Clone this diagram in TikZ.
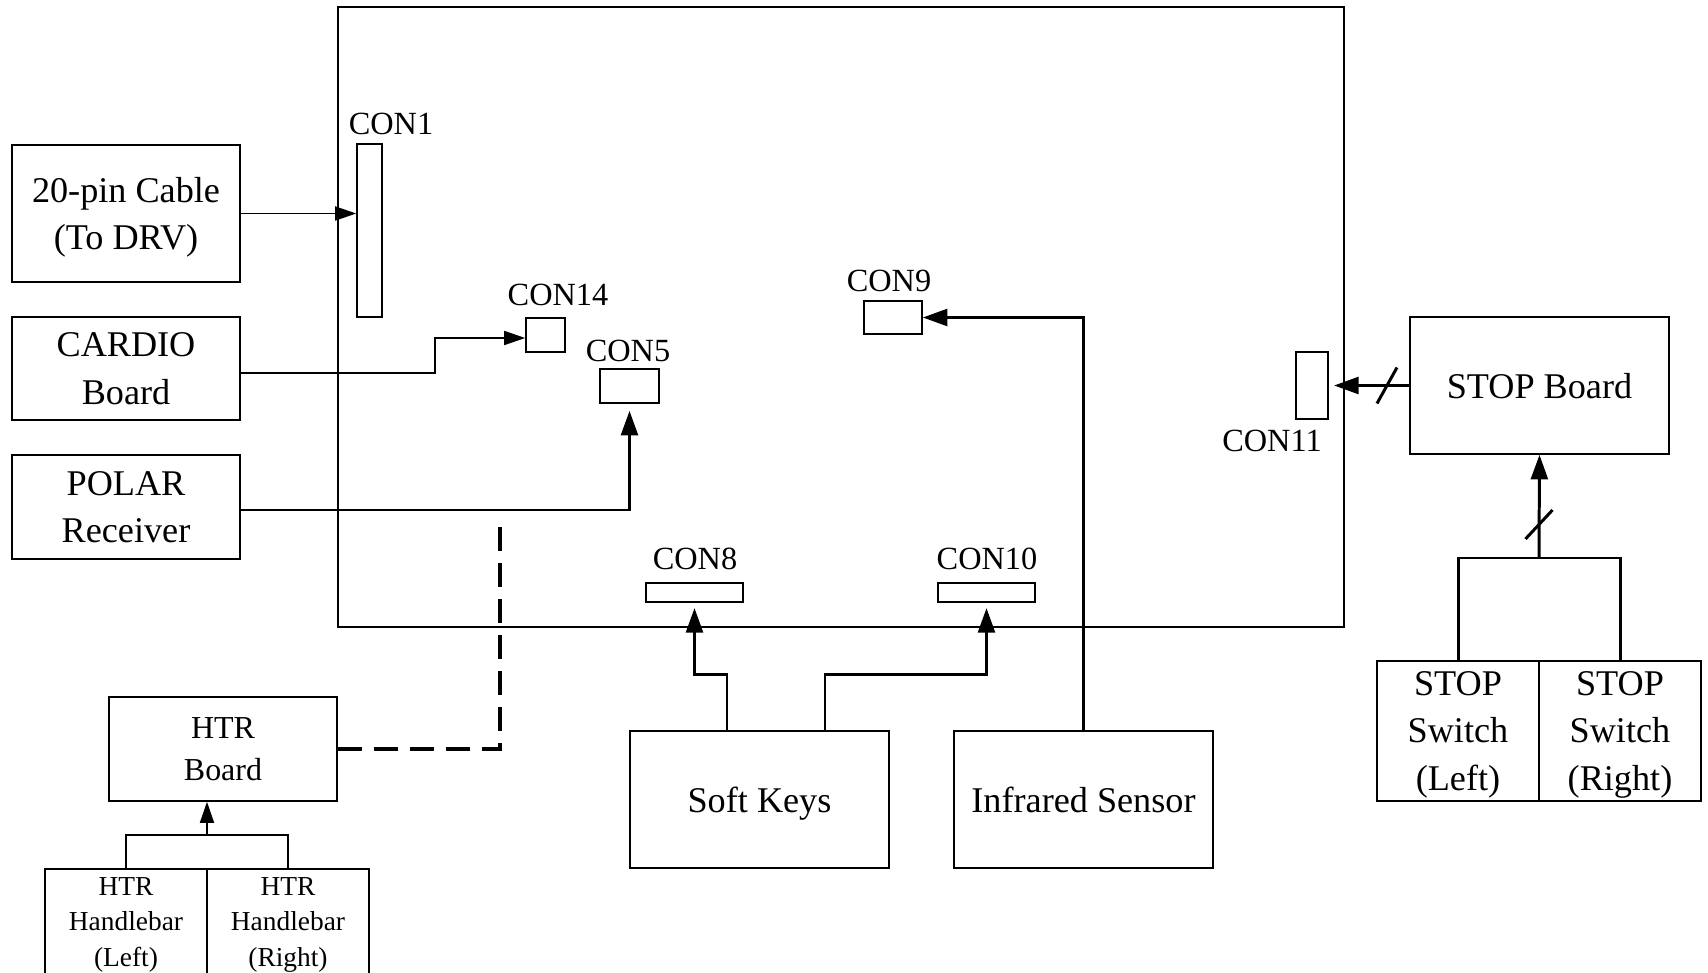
\documentclass[tikz,border=0pt]{standalone}
\usepackage{fontspec}
\setmainfont{Liberation Serif}
\usetikzlibrary{arrows.meta,positioning}

\begin{document}
\begin{tikzpicture}[
  blk/.style={rectangle, draw, line width=0.45pt, align=center, inner sep=0pt, text depth=0pt,
              minimum width=2.28cm, font=\fontsize{10.3}{13.4}\selectfont},
  halfblk/.style={blk, minimum width=1.62cm},
  con/.style={rectangle, draw, line width=0.45pt, inner sep=0pt},
  conlbl/.style={inner sep=0pt, font=\fontsize{9.2}{11}\selectfont},
  arr/.style={-{Triangle[length=6pt,width=4pt]}, line width=0.45pt},
  arrthick/.style={-{Triangle[length=7pt,width=4.8pt]}, line width=0.85pt},
  link/.style={line width=0.85pt},
  wire/.style={line width=0.45pt},
  htrlink/.style={line width=1pt, dash pattern=on 0.24cm off 0.12cm}
]
\useasboundingbox (0,0) rectangle (17.08,9.72);

% main board and its connectors
\node[con, minimum width=10.06cm, minimum height=6.20cm] (board) at (8.41,6.55) {};
\node[con, minimum width=0.25cm, minimum height=1.73cm] (con1) at (3.695,7.415) {};
\node[con, minimum width=0.39cm, minimum height=0.34cm] (con14) at (5.455,6.37) {};
\node[con, minimum width=0.59cm, minimum height=0.34cm] (con5) at (6.295,5.86) {};
\node[con, minimum width=0.58cm, minimum height=0.33cm] (con9) at (8.93,6.545) {};
\node[con, minimum width=0.32cm, minimum height=0.67cm] (con11) at (13.12,5.865) {};
\node[con, minimum width=0.97cm, minimum height=0.19cm] (con8) at (6.945,3.795) {};
\node[con, minimum width=0.97cm, minimum height=0.19cm] (con10) at (9.865,3.795) {};

\node[conlbl] (con1lbl) at (3.91,8.48) {CON1};
\node[conlbl] (con14lbl) at (5.58,6.77) {CON14};
\node[conlbl] (con5lbl) at (6.28,6.21) {CON5};
\node[conlbl] (con9lbl) at (8.89,6.91) {CON9};
\node[conlbl] (con11lbl) at (12.72,5.31) {CON11};
\node[conlbl] (con8lbl) at (6.95,4.13) {CON8};
\node[conlbl] (con10lbl) at (9.87,4.13) {CON10};

% outside blocks
\node[blk, minimum height=1.37cm] (pin20) at (1.26,7.585) {20-pin Cable\\(To DRV)};
\node[blk, minimum height=1.03cm] (cardio) at (1.26,6.035) {CARDIO\\Board};
\node[blk, minimum height=1.04cm] (polar) at (1.26,4.65) {POLAR\\Receiver};
\node[blk, minimum height=1.04cm, font=\fontsize{9.1}{11.7}\selectfont] (htr) at (2.23,2.23) {HTR\\Board};
\node[halfblk, minimum height=1.06cm, font=\fontsize{7.8}{10}\selectfont] (hbarL) at (1.26,0.50) {HTR\\Handlebar\\(Left)};
\node[halfblk, minimum height=1.06cm, font=\fontsize{7.8}{10}\selectfont] (hbarR) at (2.88,0.50) {HTR\\Handlebar\\(Right)};
\node[blk, minimum width=2.59cm, minimum height=1.37cm] (soft) at (7.595,1.725) {Soft Keys};
\node[blk, minimum width=2.59cm, minimum height=1.37cm] (infra) at (10.835,1.725) {Infrared Sensor};
\node[blk, minimum width=2.59cm, minimum height=1.37cm] (stop) at (15.395,5.865) {STOP Board};
\node[halfblk, minimum height=1.40cm] (stopL) at (14.58,2.41) {STOP\\Switch\\(Left)};
\node[halfblk, minimum height=1.40cm] (stopR) at (16.20,2.41) {STOP\\Switch\\(Right)};

\coordinate (htrend) at (5.00,4.51);
\coordinate (hjoin) at (2.07,1.37);
\coordinate (stopjoin) at (15.39,4.14);

% connections
\draw[arr] (pin20.east) -- (pin20.east -| con1.west);
\draw[arr] ([yshift=-0.045cm]cardio.east) -- ++(1.94,0) |- ([yshift=-0.03cm]con14.west);
\draw[arrthick, shorten >=2pt] ([yshift=-0.03cm]polar.east) -| (con5.south);
\draw[arrthick] (infra.north) |- (con9.east);
\draw[arrthick, shorten >=1.5pt] ([xshift=-0.325cm]soft.north) -- ++(0,0.56) -| (con8.south);
\draw[arrthick, shorten >=1.5pt] ([xshift=0.655cm]soft.north) -- ++(0,0.56) -| (con10.south);
\draw[htrlink] (htr.east) -| (htrend);

\draw[wire] (hbarL.north) |- (hjoin) -| (hbarR.north);
\draw[arr] (hjoin) -- (hjoin |- htr.south);

\draw[arrthick, shorten >=1.5pt] (stop.west) -- (stop.west -| con11.east);
\draw[link] (13.87,5.865) ++(-0.1,-0.18) -- ++(0.2,0.36);
\draw[link] (stopL.north) |- (stopjoin) -| (stopR.north);
\draw[arrthick] (stopjoin) -- (stop.south);
\draw[link] (stopjoin) ++(-0.135,0.19) -- ++(0.27,0.29);
\end{tikzpicture}
\end{document}
